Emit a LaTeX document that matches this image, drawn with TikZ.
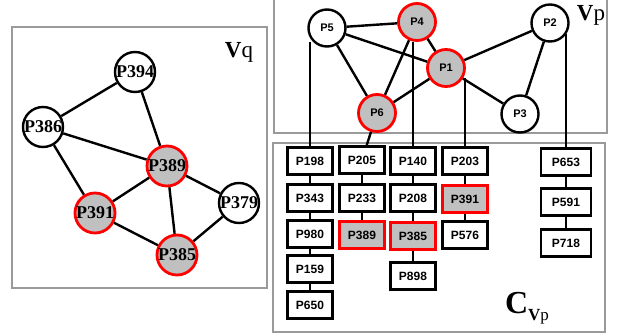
\documentclass[tikz,border=0pt]{standalone}
\usepackage{fontspec}
\setmainfont{Liberation Serif}
\setsansfont{Liberation Sans}
\definecolor{hitgray}{HTML}{C0C0C0}
\definecolor{panelgray}{HTML}{9A9A9A}
\usetikzlibrary{calc}

\begin{document}
\begin{tikzpicture}[x=1pt,y=-1pt,
		qnode/.style={draw,circle,line width=2.4pt,minimum size=40pt,inner sep=0pt,font=\fontsize{18}{18}\selectfont\bfseries},
		pnode/.style={draw,circle,line width=2.4pt,minimum size=37pt,inner sep=0pt,font=\sffamily\bfseries\fontsize{11}{11}\selectfont},
		cbox/.style={draw,rectangle,line width=2.4pt,minimum width=45pt,minimum height=27pt,inner sep=0pt,font=\sffamily\bfseries\fontsize{12}{12}\selectfont},
		hit/.style={draw=red,fill=hitgray,line width=2.8pt},
		panel/.style={draw=panelgray,line width=2.8pt},
		link/.style={line width=2.4pt}]
				\useasboundingbox (0,0) rectangle (629,335);
				% frames
				\draw[panel] (12,27) rectangle (267,288);
				\draw[panel] (274,0) -- (274,133) -- (607,133) -- (607,0);
				\draw[panel] (273,143) rectangle (605,332);
				% query graph
				\node[qnode] (Q394) at (135,72) {P394};
				\node[qnode] (Q386) at (43,127) {P386};
				\node[qnode,hit] (Q389) at (167,166) {P389};
				\node[qnode] (Q379) at (239,203) {P379};
				\node[qnode,hit] (Q391) at (95,213) {P391};
				\node[qnode,hit] (Q385) at (177,255) {P385};
				\node[anchor=base,font=\fontsize{23}{23}\selectfont] (VQ) at (239,57) {\textbf{V}q};
				\draw[link] (Q394) -- (Q386);
				\draw[link] (Q394) -- (Q389);
				\draw[link] (Q386) -- (Q389);
				\draw[link] (Q386) -- (Q391);
				\draw[link] (Q389) -- (Q391);
				\draw[link] (Q389) -- (Q385);
				\draw[link] (Q389) -- (Q379);
				\draw[link] (Q391) -- (Q385);
				\draw[link] (Q385) -- (Q379);
				% pattern graph
				\node[pnode] (P5) at (327,28) {P5};
				\node[pnode,hit] (P4) at (417,22) {P4};
				\node[pnode,hit] (P1) at (446,68) {P1};
				\node[pnode,hit] (P6) at (377,113) {P6};
				\node[pnode] (P3) at (520,114) {P3};
				\node[pnode] (P2) at (550,23) {P2};
				\node[anchor=base,font=\fontsize{23}{23}\selectfont] (VP) at (591,20) {\textbf{V}p};
				\draw[link] (P5) -- (P4);
				\draw[link] (P5) -- (P1);
				\draw[link] (P5) -- (P6);
				\draw[link] (P4) -- (P6);
				\draw[link] (P4) -- (P1);
				\draw[link] (P1) -- (P6);
				\draw[link] (P1) -- (P2);
				\draw[link] (P1) -- (P3);
				\draw[link] (P2) -- (P3);
				% candidate lists
				\node[cbox] (C198) at (310,161) {P198};
				\node[cbox] (C343) at (310,198) {P343};
				\node[cbox] (C980) at (310,234) {P980};
				\node[cbox] (C159) at (310,269) {P159};
				\node[cbox] (C650) at (310,305) {P650};
				\node[cbox] (C205) at (362,160) {P205};
				\node[cbox] (C233) at (362,198) {P233};
				\node[cbox,hit] (C389) at (362,235) {P389};
				\node[cbox] (C140) at (413,161) {P140};
				\node[cbox] (C208) at (413,198) {P208};
				\node[cbox,hit] (C385) at (413,236) {P385};
				\node[cbox] (C898) at (413,276) {P898};
				\node[cbox] (C203) at (465,161) {P203};
				\node[cbox,hit] (C391) at (465,199) {P391};
				\node[cbox] (C576) at (465,235) {P576};
				\node[cbox,minimum width=50pt] (C653) at (566,162) {P653};
				\node[cbox,minimum width=50pt] (C591) at (566,202) {P591};
				\node[cbox,minimum width=50pt] (C718) at (566,243) {P718};
				\node[anchor=base] (CVP) at (527,313) {{\fontsize{32}{32}\selectfont\bfseries C}\raisebox{-7pt}{\fontsize{17}{17}\selectfont\textbf{V}p}};
				\draw[link] (C198) -- (C343);
				\draw[link] (C343) -- (C980);
				\draw[link] (C980) -- (C159);
				\draw[link] (C159) -- (C650);
				\draw[link] (C205) -- (C233);
				\draw[link] (C233) -- (C389);
				\draw[link] (C140) -- (C208);
				\draw[link] (C208) -- (C385);
				\draw[link] (C385) -- (C898);
				\draw[link] (C203) -- (C391);
				\draw[link] (C391) -- (C576);
				\draw[link] (C653) -- (C591);
				\draw[link] (C591) -- (C718);
				% drops into the lists
				\draw[link] (C198.north) -- (C198.north |- P5.225);
				\draw[link] (P6) -- (C205);
				\draw[link] (C140.north) -- (C140.north |- P4.south);
				\draw[link] (C203.north) -- (C203.north |- P1.-30);
				\draw[link] (C653.north) -- (C653.north |- P2.-35);
			\end{tikzpicture}
\end{document}
